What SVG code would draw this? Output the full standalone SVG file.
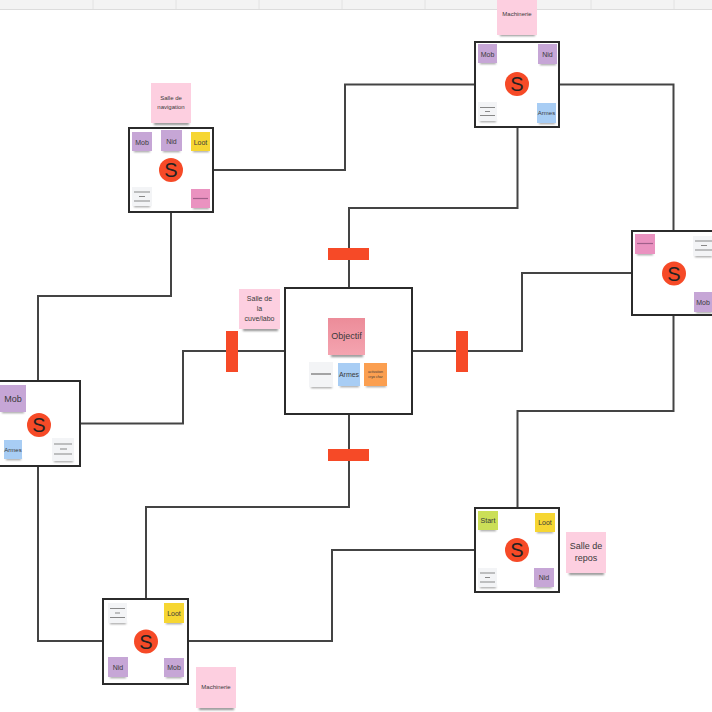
<svg xmlns="http://www.w3.org/2000/svg" width="712" height="712" viewBox="0 0 712 712">
<style>
text{font-family:"Liberation Sans",Arial,sans-serif;fill:#3a3a3a;text-anchor:middle;dominant-baseline:central}
.c{fill:none;stroke:#444;stroke-width:2}
.b{fill:#fff;stroke:#2b2b2b;stroke-width:2}
.bar{fill:#f64a27}
.dot{fill:#f64a27}
.S{font-size:20px;fill:#222}
.sh{fill:#555;filter:url(#blur);opacity:.65}
.pk{fill:#fdcfe0}.pu{fill:#c6a6d6}.ye{fill:#f6d632}.bl{fill:#a8cdf4}.wh{fill:#f3f4f6}.mg{fill:#ea92c0}.gr{fill:#cbdf58}.or{fill:#fb9f50}.ob{fill:#ef929f}
.ln{stroke:#888;stroke-width:1.2}
.t{font-size:7px}.s{font-size:6px}.m{font-size:9px}
</style>
<defs>
<filter id="blur" x="-20%" y="-100%" width="140%" height="300%"><feGaussianBlur stdDeviation="0.8"/></filter>
<linearGradient id="obg" x1="0" y1="0" x2="0" y2="1"><stop offset="0" stop-color="#ec8c99"/><stop offset="1" stop-color="#f4a4b0"/></linearGradient>
</defs>
<rect width="712" height="9" fill="#f3f3f3"/>
<path d="M0 9.5H712" stroke="#dcdcdc"/>
<path d="M93 0V9M176 0V9M259 0V9M342 0V9M425 0V9M508 0V9M591 0V9M674 0V9" stroke="#e2e2e2"/>
<g id="connectors">
<path class="c" d="M213 170H345V84.500H475"/>
<path class="c" d="M559 84.500H673.500V231"/>
<path class="c" d="M517.500 127V208H349V288"/>
<path class="c" d="M632 273H522V351H412"/>
<path class="c" d="M673.500 315V411H517.500V508"/>
<path class="c" d="M171 212V296H38V381"/>
<path class="c" d="M80 423.500H183V351H285"/>
<path class="c" d="M38 466V641H103"/>
<path class="c" d="M349 414V507H146V599"/>
<path class="c" d="M475 550H332V641H188"/>
</g>
<g id="door-top"><rect class="bar" x="328" y="248" width="41" height="12"/></g>
<g id="door-left"><rect class="bar" x="226" y="331" width="12" height="41"/></g>
<g id="door-right"><rect class="bar" x="456" y="331" width="12" height="41"/></g>
<g id="door-bottom"><rect class="bar" x="328" y="449" width="41" height="12"/></g>

<g id="node-machinerie">
<rect class="sh" x="500" y="33" width="35" height="3"/><rect class="pk" x="497" y="0" width="40" height="35"/><text class="s" x="517" y="14">Machinerie</text>
<rect class="b" x="475" y="42" width="84" height="85"/>
<rect class="sh" x="480" y="62" width="16" height="2"/><rect class="pu" x="478" y="44" width="19" height="19"/><text class="t" x="487.500" y="54">Mob</text>
<rect class="sh" x="540" y="63" width="16" height="2"/><rect class="pu" x="538" y="44" width="19" height="20"/><text class="t" x="547.500" y="54">Nid</text>
<rect class="sh" x="480" y="120" width="16" height="2"/><rect class="wh" x="478" y="102" width="19" height="19"/><path class="ln" d="M480 107.500H495M485 111.500H490M480 115.500H495"/>
<rect class="sh" x="539" y="122" width="16" height="2"/><rect class="bl" x="537" y="103" width="19" height="20"/><text class="s" x="546.500" y="113">Armes</text>
<circle class="dot" cx="517" cy="84" r="12"/><text class="S" x="517" y="84">S</text>
</g>

<g id="node-navigation">
<rect class="sh" x="154" y="122" width="35" height="3"/><rect class="pk" x="151" y="83" width="40" height="40"/><text class="s" x="171" y="98">Salle de</text><text class="s" x="171" y="106.500">navigation</text>
<rect class="b" x="129" y="128" width="84" height="84"/>
<rect class="sh" x="134" y="150" width="16" height="2"/><rect class="pu" x="132" y="132" width="20" height="19"/><text class="t" x="142" y="142">Mob</text>
<rect class="sh" x="163" y="150" width="17" height="2"/><rect class="pu" x="161" y="130" width="21" height="21"/><text class="t" x="171.500" y="141">Nid</text>
<rect class="sh" x="193" y="150" width="16" height="2"/><rect class="ye" x="191" y="132" width="19" height="19"/><text class="t" x="200.500" y="142">Loot</text>
<rect class="sh" x="134" y="205" width="16" height="2"/><rect class="wh" x="132" y="187" width="20" height="19"/><path class="ln" d="M134 192H150M139 196.500H145M134 201H150"/>
<rect class="sh" x="193" y="207" width="16" height="2"/><rect class="mg" x="191" y="189" width="19" height="19"/><path d="M193 198.500H208" stroke="#a0608a" stroke-width="1.200"/>
<circle class="dot" cx="171" cy="170" r="12"/><text class="S" x="171" y="170">S</text>
</g>

<g id="node-cuve">
<rect class="sh" x="243" y="328" width="35" height="3"/><rect class="pk" x="239" y="289" width="41" height="40"/><text class="t" x="259.500" y="298">Salle de</text><text class="t" x="259.500" y="308">la</text><text class="t" x="259.500" y="318">cuve/labo</text>
<rect class="b" x="285" y="288" width="127" height="126"/>
<rect class="sh" x="331" y="354" width="32" height="3"/><rect x="328" y="318" width="37" height="37" fill="url(#obg)"/><text class="m" x="346.500" y="336">Objectif</text>
<rect class="sh" x="311" y="386" width="21" height="2"/><rect class="wh" x="309" y="362" width="24" height="25"/><path d="M311 374H331" stroke="#888" stroke-width="1.500"/>
<rect class="sh" x="340" y="385" width="19" height="2"/><rect class="bl" x="338" y="363" width="22" height="23"/><text class="t" x="349" y="374.500">Armes</text>
<rect class="sh" x="366" y="385" width="20" height="2"/><rect class="or" x="364" y="363" width="23" height="23"/><text x="375.500" y="371.500" font-size="3.500">activation</text><text x="375.500" y="377" font-size="3.500">cryo char</text>
</g>

<g id="node-east">
<rect class="b" x="632" y="231" width="90" height="84"/>
<rect class="sh" x="637" y="253" width="16" height="2"/><rect class="mg" x="635" y="234" width="20" height="20"/><path d="M637 243.500H653" stroke="#a0608a" stroke-width="1.200"/>
<rect class="sh" x="695" y="255" width="17" height="2"/><rect class="wh" x="693" y="236" width="19" height="20"/><path class="ln" d="M695 241H712M701 245.500H707M695 250H712"/>
<rect class="sh" x="696" y="311" width="16" height="2"/><rect class="pu" x="694" y="292" width="18" height="20"/><text class="t" x="703" y="302">Mob</text>
<circle class="dot" cx="674" cy="273.500" r="12"/><text class="S" x="674" y="273.500">S</text>
</g>

<g id="node-west">
<rect class="b" x="-5" y="381" width="85" height="85"/>
<rect class="sh" x="2" y="411" width="22" height="2"/><rect class="pu" x="0" y="385" width="26" height="27"/><text font-size="9" x="13" y="398.500">Mob</text>
<rect class="sh" x="6" y="458" width="15" height="2"/><rect class="bl" x="4" y="440" width="18" height="19"/><text class="s" x="13" y="450">Armes</text>
<rect class="sh" x="54" y="460" width="19" height="2"/><rect class="wh" x="52" y="438" width="22" height="23"/><path class="ln" d="M54 444H72M60 449H67M54 454H72"/>
<circle class="dot" cx="39" cy="425" r="12"/><text class="S" x="39" y="425">S</text>
</g>

<g id="node-repos">
<rect class="sh" x="569" y="572" width="35" height="3"/><rect class="pk" x="566" y="532" width="40" height="41"/><text class="m" x="586" y="546">Salle de</text><text class="m" x="586" y="558">repos</text>
<rect class="b" x="475" y="508" width="84" height="84"/>
<rect class="sh" x="480" y="529" width="16" height="2"/><rect class="gr" x="478" y="511" width="20" height="19"/><text class="t" x="488" y="520.500">Start</text>
<rect class="sh" x="537" y="531" width="16" height="2"/><rect class="ye" x="535" y="513" width="20" height="19"/><text class="t" x="545" y="522.500">Loot</text>
<rect class="sh" x="480" y="586" width="16" height="2"/><rect class="wh" x="478" y="568" width="19" height="19"/><path class="ln" d="M480 573H495M485 577.500H490M480 582H495"/>
<rect class="sh" x="536" y="586" width="16" height="2"/><rect class="pu" x="534" y="568" width="20" height="19"/><text class="t" x="544" y="577.500">Nid</text>
<circle class="dot" cx="517" cy="550" r="12"/><text class="S" x="517" y="550">S</text>
</g>

<g id="node-machinerie-2">
<rect class="sh" x="199" y="707" width="35" height="3"/><rect class="pk" x="196" y="667" width="40" height="41"/><text class="s" x="216" y="687">Machinerie</text>
<rect class="b" x="103" y="599" width="85" height="85"/>
<rect class="sh" x="110" y="622" width="16" height="2"/><rect class="wh" x="108" y="603" width="19" height="20"/><path class="ln" d="M110 608.500H125M115 613H120M110 617.500H125"/>
<rect class="sh" x="166" y="622" width="16" height="2"/><rect class="ye" x="164" y="603" width="20" height="20"/><text class="t" x="174" y="613">Loot</text>
<rect class="sh" x="110" y="676" width="16" height="2"/><rect class="pu" x="108" y="657" width="20" height="20"/><text class="t" x="118" y="667">Nid</text>
<rect class="sh" x="166" y="676" width="16" height="2"/><rect class="pu" x="164" y="658" width="20" height="19"/><text class="t" x="174" y="667.500">Mob</text>
<circle class="dot" cx="146" cy="641.500" r="12"/><text class="S" x="146" y="641.500">S</text>
</g>
</svg>
